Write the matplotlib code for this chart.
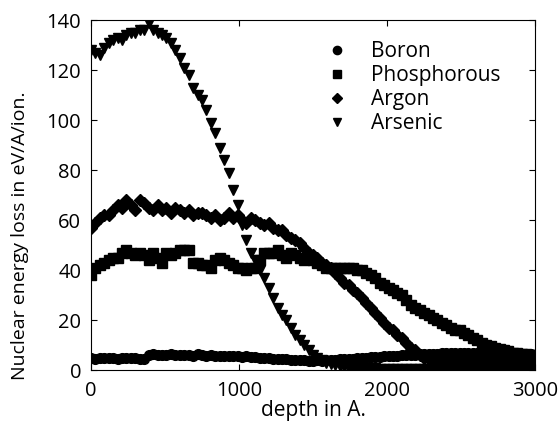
import matplotlib
matplotlib.use("Agg")
import matplotlib.pyplot as plt
import numpy as np

plt.rcParams['font.family'] = ['Open Sans', 'DejaVu Sans']

# depth grid in Angstrom (one sample every 30 A)
depth = np.arange(0, 3001, 30)

boron = [4.8, 4.6, 5.0, 4.7, 4.9, 5.0, 4.6, 4.8, 5.0, 4.7,
         4.9, 4.6, 4.5, 6.2, 6.4, 6.0, 6.2, 6.1, 6.3, 6.0,
         6.2, 5.9, 6.1, 5.8, 6.3, 6.0, 5.8, 5.9, 5.7, 5.8,
         5.6, 5.7, 5.5, 5.6, 5.4, 5.5, 5.2, 5.3, 5.0, 4.8,
         4.7, 4.6, 4.5, 4.4, 4.3, 4.2, 4.1, 4.0, 3.9, 3.8,
         3.8, 3.9, 3.8, 4.0, 4.1, 4.2, 4.3, 4.4, 4.5, 4.6,
         4.7, 4.8, 5.0, 5.1, 5.2, 5.3, 5.5, 5.6, 5.7, 5.8,
         5.9, 6.0, 6.1, 6.2, 6.3, 6.4, 6.5, 6.5, 6.6, 6.7,
         6.8, 6.8, 6.9, 6.9, 7.0, 7.0, 6.9, 6.9, 6.8, 6.8,
         6.7, 6.7, 6.6, 6.6, 6.5, 6.5, 6.4, 6.4, 6.3, 6.3,
         6.2]

phosphorous = [38, 41, 42, 43, 44, 45, 45, 47, 48, 47,
               46, 47, 46, 44, 47, 45, 43, 47, 46, 47,
               48, 48, 48, 43, 43, 42, 42, 41, 44, 45,
               44, 43, 42, 41, 41, 40, 41, 41, 44, 47,
               47, 47, 48, 46, 45, 47, 46, 45, 44, 45,
               44, 43, 42, 41, 41, 41, 41, 41, 41, 41,
               40, 40, 39, 38, 37, 35, 34, 33, 32, 31,
               30, 28, 26, 25, 24, 23, 22, 21, 20, 19,
               18, 17, 16, 16, 15, 14, 13, 12, 11, 10,
               9.5, 9, 8.5, 8, 7.5, 7, 7, 6.5, 6.5, 6,
               6]

argon = [57, 59, 61, 62, 62, 64, 66, 65, 68, 66,
         64, 68, 67, 65, 64, 66, 64, 65, 63, 65,
         64, 63, 64, 62, 63, 63, 62, 61, 62, 60,
         61, 63, 61, 62, 60, 59, 61, 60, 59, 58,
         59, 57, 56, 56, 54, 53, 52, 51, 49, 47,
         46, 45, 43, 42, 41, 39, 37, 35, 34, 32,
         31, 29, 27, 25, 23, 21, 19, 17, 16, 14,
         13, 11, 9, 8, 6, 5, 4.5, 4.2, 4.0, 4.0,
         3.9, 3.9, 3.8, 3.8, 3.8, 3.7, 3.7, 3.7, 3.6, 3.6,
         3.6, 3.5, 3.5, 3.5, 3.4, 3.4, 3.4, 3.3, 3.3, 3.3,
         3.2]

arsenic = [128, 127, 126, 129, 131, 132, 133, 132, 134, 135,
           135, 136, 136, 139, 136, 135, 134, 133, 131, 128,
           125, 121, 118, 113, 110, 108, 104, 99, 95, 89,
           84, 79, 72, 66, 58, 52, 47, 44, 40, 37,
           33, 29, 25, 22, 20, 17, 14, 12, 10, 8,
           6, 5, 4, 3, 2.5, 2, 1.5, 1.2, 1.0, 0.9,
           0.8, 0.8, 0.7, 0.7, 0.7, 0.6, 0.6, 0.6, 0.6, 0.5,
           0.5, 0.5, 0.5, 0.5, 0.5, 0.5, 0.5, 0.5, 0.5, 0.5,
           0.5, 0.5, 0.5, 0.5, 0.5, 0.5, 0.5, 0.5, 0.5, 0.5,
           0.5, 0.5, 0.5, 0.5, 0.5, 0.5, 0.5, 0.5, 0.5, 0.5,
           0.5]

fig = plt.figure(figsize=(5.58, 4.29), dpi=100)
ax = fig.add_axes([0.163, 0.1375, 0.796, 0.8155])

ax.plot(depth, boron, 'o', color='black', ms=7, label='Boron')
ax.plot(depth, phosphorous, 's', color='black', ms=6.5, label='Phosphorous')
ax.plot(depth, argon, 'D', color='black', ms=6.5, label='Argon')
ax.plot(depth, arsenic, 'v', color='black', ms=7, label='Arsenic')

ax.set_xlim(0, 3000)
ax.set_ylim(0, 140)
ax.set_xticks([0, 1000, 2000, 3000])
ax.set_yticks(np.arange(0, 141, 20))
ax.tick_params(direction='in', top=True, right=True, length=4, labelsize=14.5)
ax.tick_params(axis='x', pad=8)
ax.tick_params(axis='y', pad=7)
ax.set_xlabel('depth in A.', fontsize=15, va='top')
ax.xaxis.set_label_coords(0.5, -0.085)
ax.set_ylabel('Nuclear energy loss in eV/A/ion.', fontsize=14, va='center')
ax.yaxis.set_label_coords(-0.16, 0.385)

ax.legend(loc='upper left', bbox_to_anchor=(0.484, 0.994), frameon=False, fontsize=15,
          handlelength=1.2, handletextpad=1.0, labelspacing=0.15, markerscale=0.85)

fig.savefig('out.png', dpi=100)
